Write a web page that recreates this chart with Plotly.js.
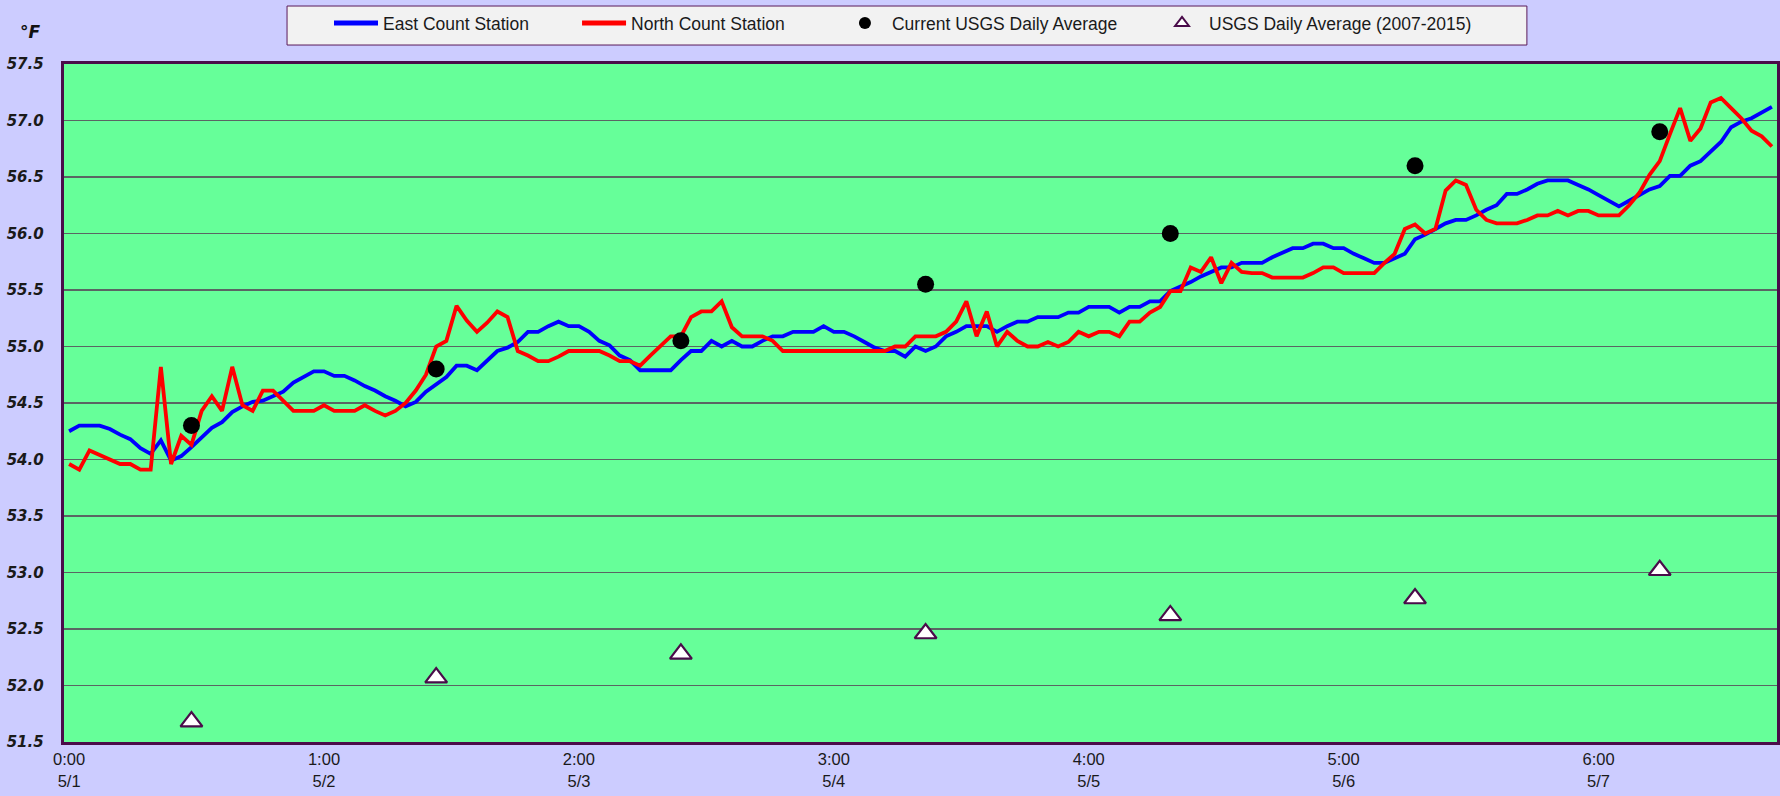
<!DOCTYPE html>
<html>
<head>
<meta charset="utf-8">
<script src="https://cdn.plot.ly/plotly-3.0.1.min.js"></script>
<style>
  html, body { margin: 0; padding: 0; background: #CCCCFF; }
  #chart { width: 1780px; height: 796px; }
</style>
</head>
<body>
<div id="chart"></div>
<script>
// Hourly readings, 5/1 0:00 through 5/7 23:00 (168 categories)
const eastCountStation = [
  54.25,54.30,54.30,54.30,54.27,54.22,54.18,54.10,54.05,54.17,53.99,54.03,54.11,54.19,54.28,54.33,54.42,54.47,54.51,54.52,54.56,54.60,54.68,54.73,
  54.78,54.78,54.74,54.74,54.70,54.65,54.61,54.56,54.52,54.47,54.51,54.60,54.66,54.73,54.83,54.83,54.79,54.88,54.96,54.99,55.04,55.13,55.13,55.18,
  55.22,55.18,55.18,55.13,55.05,55.01,54.92,54.88,54.79,54.79,54.79,54.79,54.88,54.96,54.96,55.05,55.00,55.05,55.00,55.00,55.05,55.09,55.09,55.13,
  55.13,55.13,55.18,55.13,55.13,55.09,55.04,54.99,54.96,54.96,54.91,55.00,54.96,55.00,55.09,55.13,55.18,55.18,55.18,55.13,55.18,55.22,55.22,55.26,
  55.26,55.26,55.30,55.30,55.35,55.35,55.35,55.30,55.35,55.35,55.40,55.40,55.49,55.53,55.57,55.62,55.66,55.70,55.70,55.74,55.74,55.74,55.79,55.83,
  55.87,55.87,55.91,55.91,55.87,55.87,55.82,55.78,55.74,55.74,55.78,55.82,55.95,55.99,56.04,56.09,56.12,56.12,56.16,56.21,56.25,56.35,56.35,56.39,
  56.44,56.47,56.47,56.47,56.43,56.39,56.34,56.29,56.24,56.29,56.34,56.39,56.42,56.51,56.51,56.60,56.64,56.72,56.81,56.94,56.99,57.02,57.07,57.12
];
const northCountStation = [
  53.96,53.91,54.08,54.04,54.00,53.96,53.96,53.91,53.91,54.82,53.96,54.21,54.13,54.43,54.56,54.43,54.82,54.48,54.43,54.61,54.61,54.52,54.43,54.43,
  54.43,54.48,54.43,54.43,54.43,54.48,54.43,54.39,54.43,54.50,54.61,54.75,55.00,55.05,55.36,55.23,55.13,55.21,55.31,55.26,54.96,54.92,54.87,54.87,
  54.91,54.96,54.96,54.96,54.96,54.92,54.87,54.87,54.83,54.92,55.01,55.09,55.09,55.26,55.31,55.31,55.40,55.17,55.09,55.09,55.09,55.05,54.96,54.96,
  54.96,54.96,54.96,54.96,54.96,54.96,54.96,54.96,54.96,55.00,55.00,55.09,55.09,55.09,55.13,55.22,55.40,55.09,55.31,55.00,55.13,55.05,55.00,55.00,
  55.04,55.00,55.04,55.13,55.09,55.13,55.13,55.09,55.22,55.22,55.30,55.35,55.49,55.49,55.70,55.66,55.79,55.56,55.74,55.66,55.65,55.65,55.61,55.61,
  55.61,55.61,55.65,55.70,55.70,55.65,55.65,55.65,55.65,55.74,55.82,56.04,56.08,56.00,56.04,56.38,56.47,56.43,56.21,56.12,56.09,56.09,56.09,56.12,
  56.16,56.16,56.20,56.16,56.20,56.20,56.16,56.16,56.16,56.25,56.36,56.52,56.64,56.88,57.11,56.82,56.93,57.16,57.20,57.11,57.02,56.91,56.86,56.77
];
const hourIndex = eastCountStation.map((_, i) => i);

// Daily values, placed at noon of each day (hour index)
const dailyHour = [12, 36, 60, 84, 108, 132, 156];
const currentUsgsDaily = [54.30, 54.80, 55.05, 55.55, 56.00, 56.60, 56.90];
const usgsDaily2007to2015 = [51.68, 52.07, 52.28, 52.46, 52.62, 52.77, 53.02];

// Category-axis tick labels (every 25th category)
const tickHours = [0, 25, 50, 75, 100, 125, 150];
const tickLabels = ['0:00<br>5/1', '1:00<br>5/2', '2:00<br>5/3', '3:00<br>5/4', '4:00<br>5/5', '5:00<br>5/6', '6:00<br>5/7'];

const frameColor = '#4A0C4A';
const legendFont = { family: 'Liberation Sans, Arial, sans-serif', size: 17.5, color: '#1a1a1a' };
const tickFontX = { family: 'Liberation Sans, Arial, sans-serif', size: 16.5, color: '#1a1a1a' };

const traces = [
  { type: 'scatter', mode: 'lines', name: 'East Count Station', x: hourIndex, y: eastCountStation,
    line: { color: '#0000FF', width: 3.8 }, legend: 'legend' },
  { type: 'scatter', mode: 'lines', name: 'North Count Station', x: hourIndex, y: northCountStation,
    line: { color: '#FF0000', width: 3.8 }, legend: 'legend2' },
  { type: 'scatter', mode: 'markers', name: 'Current USGS Daily Average', x: dailyHour, y: currentUsgsDaily,
    marker: { symbol: 'circle', size: 17, color: '#000000' }, legend: 'legend3' },
  { type: 'scatter', mode: 'markers', name: 'USGS Daily Average (2007-2015)', x: dailyHour, y: usgsDaily2007to2015,
    marker: { symbol: 'triangle-up', size: 19, color: '#FFFFFF', line: { color: frameColor, width: 2.2 } }, legend: 'legend4' }
];

function legendAt(x) {
  return {
    orientation: 'h', x: x, y: 1.087, xanchor: 'left', yanchor: 'top',
    bgcolor: 'rgba(0,0,0,0)', borderwidth: 0,
    font: legendFont, itemsizing: 'constant', itemwidth: 44
  };
}

const layout = {
  width: 1780, height: 796,
  paper_bgcolor: '#CCCCFF',
  plot_bgcolor: '#66FF99',
  margin: { l: 64, r: 3, t: 64, b: 54 },
  showlegend: true,
  legend: legendAt(0.1547),
  legend2: legendAt(0.2995),
  legend3: legendAt(0.4518),
  legend4: legendAt(0.6369),
  shapes: [
    { type: 'rect', xref: 'paper', yref: 'paper', x0: 0.1302, x1: 0.854, y0: 1.028, y1: 1.0855,
      fillcolor: '#F2F2F2', line: { color: '#5A1A5A', width: 1 }, layer: 'above' }
  ],
  xaxis: {
    type: 'linear', range: [-0.5, 167.5],
    tickmode: 'array', tickvals: tickHours, ticktext: tickLabels,
    showgrid: false, zeroline: false, ticks: '',
    showline: true, mirror: true, linecolor: frameColor, linewidth: 3.3,
    tickfont: tickFontX, ticklabelstandoff: 0
  },
  yaxis: {
    range: [51.5, 57.5], dtick: 0.5, tick0: 51.5, tickformat: '.1f',
    showgrid: true, gridcolor: '#5A6563', gridwidth: 1.5, zeroline: false, ticks: '',
    showline: true, mirror: true, linecolor: frameColor, linewidth: 3.3,
    tickfont: { family: 'DejaVu Sans, Verdana, sans-serif', size: 15, color: '#1a1a1a', weight: 'bold', style: 'italic' },
    ticklabelstandoff: 14
  },
  annotations: [
    { text: '°F', xref: 'paper', yref: 'paper', x: -0.0195, y: 1.0476, xanchor: 'center', yanchor: 'middle',
      showarrow: false, font: { family: 'DejaVu Sans, Verdana, sans-serif', size: 17, color: '#111', weight: 'bold', style: 'italic' } }
  ]
};

Plotly.newPlot('chart', traces, layout, { displayModeBar: false, staticPlot: true });
</script>
</body>
</html>
